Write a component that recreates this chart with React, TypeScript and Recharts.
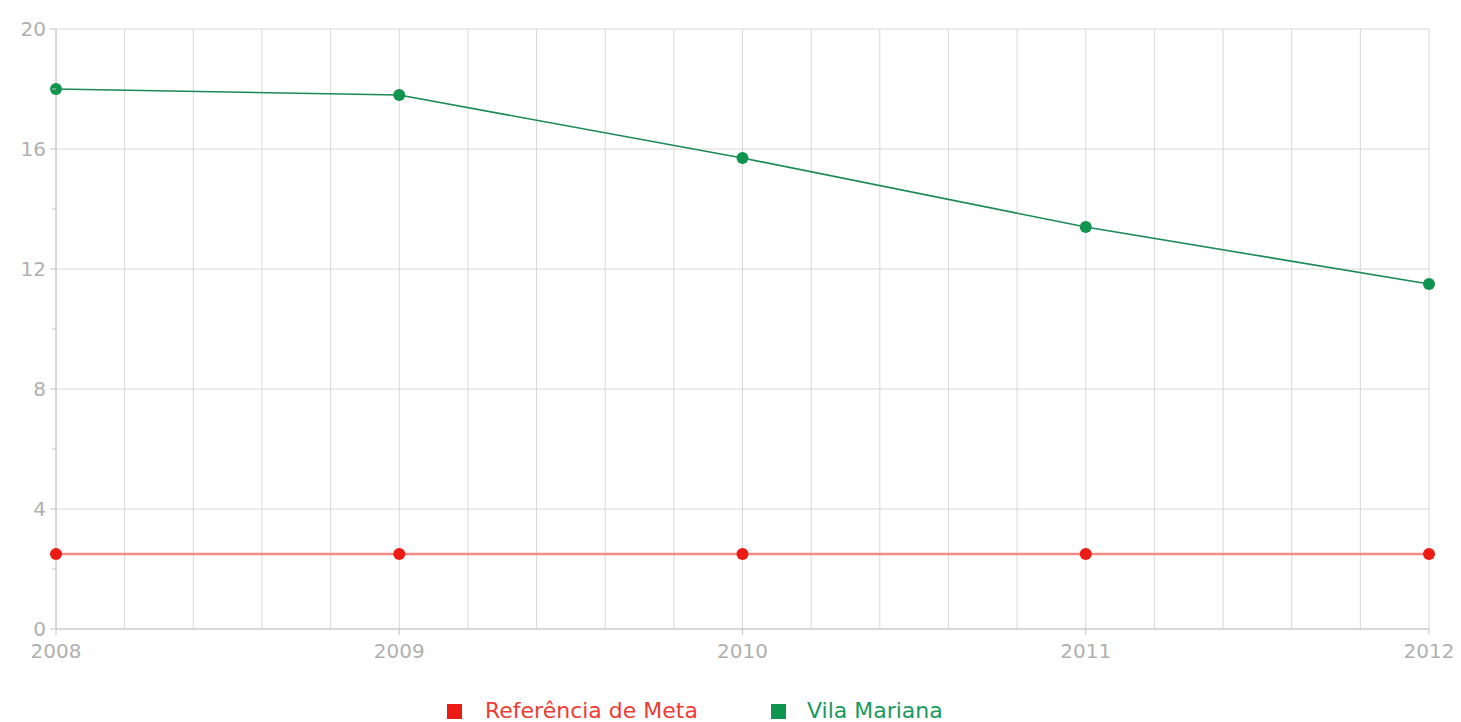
import { LineChart, Line, XAxis, YAxis, CartesianGrid, Legend } from "recharts";

const years = [2008, 2009, 2010, 2011, 2012];
const metaValues = [2.5, 2.5, 2.5, 2.5, 2.5];
const vilaMarianaValues = [18.0, 17.8, 15.7, 13.4, 11.5];

const yTicks = [0, 2, 4, 6, 8, 10, 12, 14, 16, 18, 20];
const yGridValues = [0, 4, 8, 12, 16, 20];
const xGridValues = [
  2008, 2008.2, 2008.4, 2008.6, 2008.8, 2009, 2009.2, 2009.4, 2009.6, 2009.8, 2010,
  2010.2, 2010.4, 2010.6, 2010.8, 2011, 2011.2, 2011.4, 2011.6, 2011.8, 2012,
];

const RED = "#ec1c14";
const GREEN = "#0f9550";
const LABEL = "#b0b0b0";
const FONT = "'DejaVu Sans', Verdana, sans-serif";

const data = years.map((year, i) => ({
  year,
  meta: metaValues[i],
  vila: vilaMarianaValues[i],
}));

// y ticks: labels only every 4, short marks in between
const YTick = ({ x, y, payload }: any) => {
  const major = payload.value % 4 === 0;
  return (
    <g>
      <line x1={x - (major ? 6 : 4)} x2={x} y1={y} y2={y} stroke="#c4c4c4" />
      {major && (
        <text x={x - 10} y={y + 7} textAnchor="end" fill={LABEL} fontSize={20} fontFamily={FONT}>
          {payload.value}
        </text>
      )}
    </g>
  );
};

const XTick = ({ x, y, payload }: any) => (
  <g>
    <line x1={x} x2={x} y1={y} y2={y + 6} stroke="#c4c4c4" />
    <text x={x} y={y + 29} textAnchor="middle" fill={LABEL} fontSize={20} fontFamily={FONT}>
      {payload.value}
    </text>
  </g>
);

// legend wrapper already sits at margin.left (10px)
const LegendContent = () => (
  <div
    style={{
      display: "flex",
      alignItems: "center",
      paddingLeft: 437,
      fontFamily: FONT,
      fontSize: 22,
      height: 22,
      lineHeight: "22px",
    }}
  >
    <span style={{ width: 15, height: 15, background: RED, display: "inline-block" }} />
    <span style={{ color: "#ee3b33", marginLeft: 23 }}>Referência de Meta</span>
    <span style={{ width: 15, height: 15, background: GREEN, display: "inline-block", marginLeft: 73 }} />
    <span style={{ color: "#189a5c", marginLeft: 21 }}>Vila Mariana</span>
  </div>
);

export default function App() {
  return (
    <div style={{ position: "absolute", top: 0, left: 0, background: "#fff" }}>
      <LineChart
        width={1461}
        height={722}
        data={data}
        margin={{ top: 29, right: 32, left: 10, bottom: 0 }}
      >
        <CartesianGrid
          stroke="#d8d8d8"
          horizontalValues={yGridValues}
          verticalValues={xGridValues}
        />
        <XAxis
          dataKey="year"
          type="number"
          domain={[2008, 2012]}
          ticks={years}
          height={71}
          stroke="#c4c4c4"
          tickSize={0}
          tickMargin={0}
          tickLine={false}
          tick={<XTick />}
        />
        <YAxis
          type="number"
          domain={[0, 20]}
          ticks={yTicks}
          interval={0}
          width={46}
          stroke="#c4c4c4"
          tickSize={0}
          tickMargin={0}
          tickLine={false}
          tick={<YTick />}
        />
        <Legend verticalAlign="bottom" height={22} content={<LegendContent />} />
        <Line
          type="linear"
          dataKey="meta"
          name="Referência de Meta"
          stroke="#f48a86"
          strokeWidth={2.5}
          dot={{ r: 6, fill: RED, stroke: "none" }}
          isAnimationActive={false}
        />
        <Line
          type="linear"
          dataKey="vila"
          name="Vila Mariana"
          stroke="#1a8a56"
          strokeWidth={1.6}
          dot={{ r: 6, fill: GREEN, stroke: "none" }}
          isAnimationActive={false}
        />
      </LineChart>
    </div>
  );
}
